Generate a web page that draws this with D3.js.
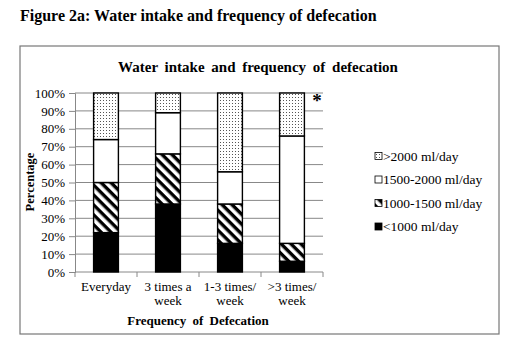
<!DOCTYPE html>
<html>
<head>
<meta charset="utf-8">
<script src="https://cdn.jsdelivr.net/npm/d3@7"></script>
<style>
  body { margin: 0; background: #fff; }
  text { font-family: "Liberation Serif", "Times New Roman", serif; }
</style>
</head>
<body>
<div id="vis"></div>
<script>
// Datos (porcentajes por categoría)
const categorias = ["Everyday", "3 times a week", "1-3 times/ week", ">3 times/ week"];
const etiquetasX = [["Everyday"], ["3 times a", "week"], ["1-3 times/", "week"], [">3 times/", "week"]];
const menos1000 = [22, 38, 16, 6];
const de1000a1500 = [28, 28, 22, 10];
const de1500a2000 = [24, 23, 18, 60];
const mas2000 = [26, 11, 44, 24];
const series = ["<1000 ml/day", "1000-1500 ml/day", "1500-2000 ml/day", ">2000 ml/day"];
const ticksY = [0, 10, 20, 30, 40, 50, 60, 70, 80, 90, 100];

const WIDTH = 512;
const HEIGHT = 352;
const SVG = d3.select("#vis").append("svg").attr("width", WIDTH).attr("height", HEIGHT);

// area del gráfico: izquierda, derecha, arriba, abajo
const plot = { x0: 75, x1: 323, y0: 93, y1: 272 };

// patrones de relleno
const defs = SVG.append("defs");
const puntos = defs.append("pattern").attr("id", "puntos")
  .attr("patternUnits", "userSpaceOnUse").attr("width", 3).attr("height", 3);
puntos.append("rect").attr("width", 3).attr("height", 3).attr("fill", "#fff");
puntos.append("rect").attr("x", 1).attr("y", 1).attr("width", 1).attr("height", 1).attr("fill", "#555");

const rayas = defs.append("pattern").attr("id", "rayas")
  .attr("patternUnits", "userSpaceOnUse").attr("width", 7).attr("height", 7)
  .attr("patternTransform", "rotate(45)");
rayas.append("rect").attr("width", 7).attr("height", 7).attr("fill", "#fff");
rayas.append("rect").attr("x", 0).attr("y", 0).attr("width", 7).attr("height", 3.4).attr("fill", "#000");

const rellenos = ["#000", "url(#rayas)", "#fff", "url(#puntos)"];

// titulo de la figura
SVG.append("text").attr("x", 20).attr("y", 21)
  .attr("font-size", 16).attr("font-weight", "bold")
  .text("Figure 2a: Water intake and frequency of defecation");

// marco
SVG.append("rect").attr("x", 20).attr("y", 46).attr("width", 479).attr("height", 288)
  .attr("fill", "#fff").attr("stroke", "#777").attr("stroke-width", 1.2);

SVG.append("text").attr("x", 258).attr("y", 72).attr("text-anchor", "middle")
  .attr("font-size", 15).attr("font-weight", "bold").attr("word-spacing", 3)
  .text("Water intake and frequency of defecation");

// escalas
const escalaX = d3.scaleBand().domain(categorias).range([plot.x0, plot.x1]).padding(0);
const escalaY = d3.scaleLinear().domain([0, 100]).range([plot.y1, plot.y0]);

// lineas de grilla
SVG.append("g").selectAll("line").data(ticksY.slice(1)).join("line")
  .attr("x1", plot.x0).attr("x2", plot.x1)
  .attr("y1", d => escalaY(d)).attr("y2", d => escalaY(d))
  .attr("stroke", "#888").attr("stroke-width", 1);

// eje Y
const ejeY = SVG.append("g").attr("transform", `translate(${plot.x0},0)`)
  .call(d3.axisLeft(escalaY).tickValues(ticksY).tickFormat(d => d + "%").tickSize(6).tickPadding(4));
ejeY.select(".domain").attr("stroke", "#888");
ejeY.selectAll("line").attr("stroke", "#888");
ejeY.selectAll("text").attr("font-size", 13).attr("fill", "#000");

// eje X
const ejeX = SVG.append("g").attr("transform", `translate(0,${plot.y1})`);
ejeX.append("line").attr("x1", plot.x0).attr("x2", plot.x1).attr("stroke", "#888");
const bordes = categorias.map(c => escalaX(c)).concat([plot.x1]);
ejeX.selectAll(".tk").data(bordes).join("line").attr("class", "tk")
  .attr("x1", d => d).attr("x2", d => d).attr("y1", 0).attr("y2", 5).attr("stroke", "#888");

// barras apiladas
const tabla = categorias.map((c, i) => ({
  cat: c,
  "<1000 ml/day": menos1000[i],
  "1000-1500 ml/day": de1000a1500[i],
  "1500-2000 ml/day": de1500a2000[i],
  ">2000 ml/day": mas2000[i]
}));
const pila = d3.stack().keys(series)(tabla);
const anchoBarra = escalaX.bandwidth() * 0.4;

SVG.append("g").selectAll("g").data(pila).join("g")
  .attr("fill", (d, i) => rellenos[i])
  .selectAll("rect").data(d => d).join("rect")
  .attr("x", d => escalaX(d.data.cat) + (escalaX.bandwidth() - anchoBarra) / 2)
  .attr("y", d => escalaY(d[1]))
  .attr("width", anchoBarra)
  .attr("height", d => escalaY(d[0]) - escalaY(d[1]))
  .attr("stroke", "#000").attr("stroke-width", 1.4);

// etiquetas eje X
SVG.append("g").selectAll("text").data(categorias).join("text")
  .attr("x", d => escalaX(d) + escalaX.bandwidth() / 2)
  .attr("y", 291).attr("text-anchor", "middle").attr("font-size", 13)
  .selectAll("tspan").data((d, i) => etiquetasX[i]).join("tspan")
  .attr("x", function () { return this.parentNode.getAttribute("x"); })
  .attr("dy", (d, i) => i === 0 ? 0 : 14)
  .text(d => d);

SVG.append("text").attr("x", 198).attr("y", 325).attr("text-anchor", "middle")
  .attr("font-size", 13).attr("font-weight", "bold").attr("word-spacing", 3)
  .text("Frequency of Defecation");

SVG.append("text").attr("transform", "translate(34,182) rotate(-90)")
  .attr("text-anchor", "middle").attr("font-size", 12.5).attr("font-weight", "bold")
  .text("Percentage");

// asterisco
SVG.append("text").attr("x", 317).attr("y", 107).attr("text-anchor", "middle")
  .attr("font-size", 19).attr("font-weight", "bold").text("*");

// leyenda
const leyenda = SVG.append("g").selectAll("g").data(series.slice().reverse()).join("g")
  .attr("transform", (d, i) => `translate(375,${156 + i * 23.5})`);
leyenda.append("rect").attr("x", 0).attr("y", -3.5).attr("width", 7).attr("height", 7)
  .attr("fill", d => rellenos[series.indexOf(d)]).attr("stroke", "#000").attr("stroke-width", 0.8);
leyenda.append("text").attr("x", 8).attr("y", 4.5).attr("font-size", 13.5).text(d => d);
</script>
</body>
</html>
